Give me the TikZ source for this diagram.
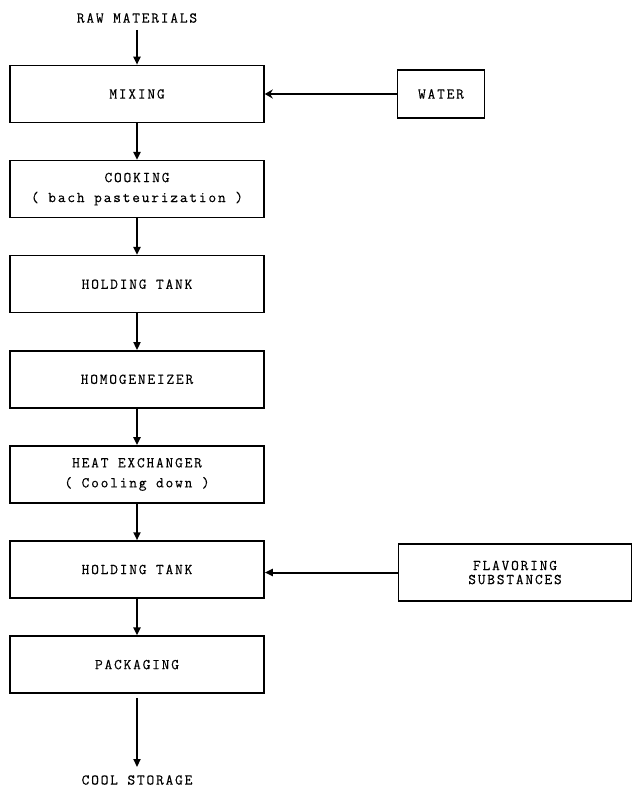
\documentclass[tikz,border=0pt]{standalone}
\usepackage{fontspec}
\newfontfamily\typew{Latin Modern Mono}[LetterSpace=12,FakeBold=0.3]
\usetikzlibrary{arrows.meta,positioning}

\begin{document}
\begin{tikzpicture}[
    node distance=36.6pt,
    box/.style={draw=black,line width=1.5pt,minimum width=254pt,minimum height=57pt,
                align=center,font=\typew\fontsize{15}{20}\selectfont,inner sep=2pt},
    side/.style={draw=black,line width=1.5pt,align=center,
                 font=\typew\fontsize{15}{14}\selectfont},
    label/.style={font=\typew\fontsize{15}{14}\selectfont,inner sep=2pt},
    arrow/.style={-{Triangle[length=8pt,width=7pt]},line width=2pt},
    feed/.style={-{Stealth[length=8pt,width=9pt]},line width=1.4pt}
  ]
    \useasboundingbox (0pt,0pt) rectangle (632pt,-789pt);
    \node[label] (raw) at (137pt,-18pt) {RAW MATERIALS};
    \node[box] (mix) at (137pt,-94pt) {MIXING};
    \node[box,below=of mix] (cook) {COOKING\\( bach pasteurization )};
    \node[box,below=of cook] (hold1) {HOLDING TANK};
    \node[box,below=of hold1] (homo) {HOMOGENEIZER};
    \node[box,below=of homo] (heat) {HEAT EXCHANGER\\( Cooling down )};
    \node[box,below=of heat] (hold2) {HOLDING TANK};
    \node[box,below=of hold2] (pack) {PACKAGING};
    \node[label] (cool) at (137pt,-780pt) {COOL STORAGE};
    \node[side,minimum width=87pt,minimum height=48pt,right=132pt of mix] (water) {WATER};
    \node[side,minimum width=233pt,minimum height=57pt,right=133pt of hold2,yshift=-3pt]
          (flav) {FLAVORING\\SUBSTANCES};
    \draw[arrow] ([yshift=-5pt]raw.south) -- (mix);
    \draw[arrow] (mix) -- (cook); \draw[arrow] (cook) -- (hold1);
    \draw[arrow] (hold1) -- (homo); \draw[arrow] (homo) -- (heat);
    \draw[arrow] (heat) -- (hold2); \draw[arrow] (hold2) -- (pack);
    \draw[arrow] ([yshift=-4pt]pack.south) -- ([yshift=6pt]cool.north);
    \draw[feed] (water) -- (water -| mix.east);
    \draw[arrow] (flav.west) -- (flav.west -| hold2.east);
  \end{tikzpicture}
\end{document}
